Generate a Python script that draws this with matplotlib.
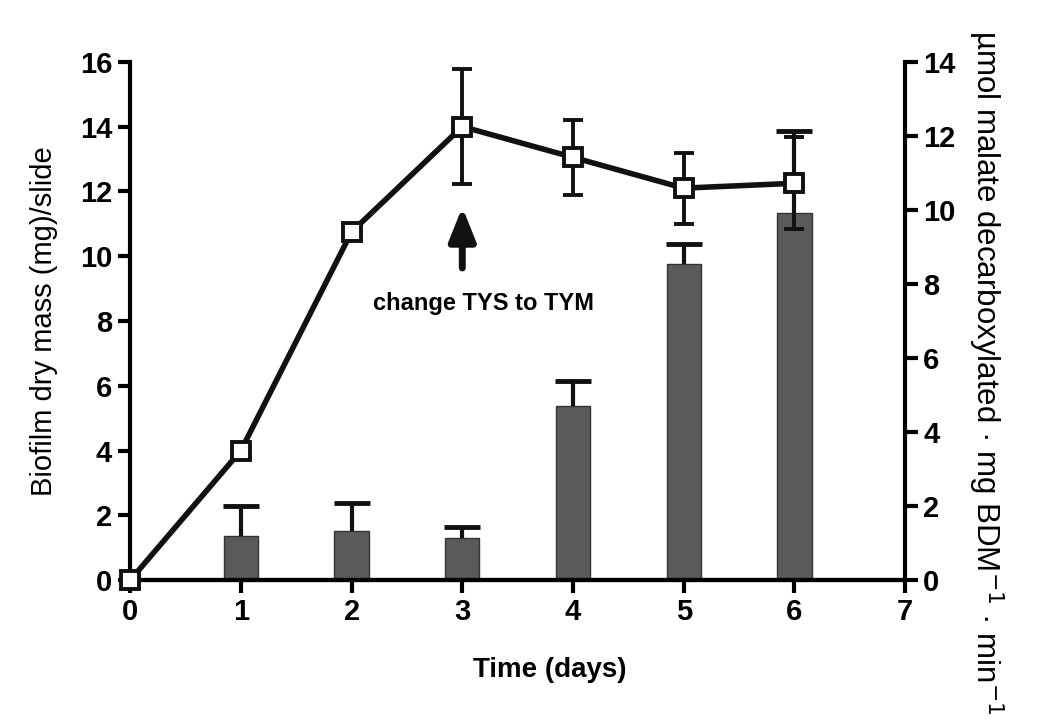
import numpy as np
import matplotlib
matplotlib.use('agg')
import matplotlib.pyplot as plt

# biofilm dry mass (left axis)
days = [0, 1, 2, 3, 4, 5, 6]
mass = [0, 4.0, 10.75, 14.0, 13.05, 12.1, 12.25]
mass_err = [0, 0, 0.2, 1.78, 1.16, 1.1, 1.42]

# malate decarboxylation (right axis)
bar_days = [1, 2, 3, 4, 5, 6]
malate = [1.2, 1.32, 1.14, 4.7, 8.54, 9.92]
malate_err = [0.8, 0.76, 0.3, 0.68, 0.54, 2.2]

fig = plt.figure(figsize=(10.5, 7.27), dpi=100)
ax = fig.add_axes([0.124, 0.202, 0.738, 0.713])
ax2 = ax.twinx()

ax2.bar(bar_days, malate, width=0.31, color='#5a5a5a', edgecolor='#333333', linewidth=1)
eb = ax2.errorbar(bar_days, malate, yerr=[np.zeros(len(malate)), malate_err], fmt='none',
                  ecolor='#111111', elinewidth=3, capsize=13, capthick=3.5)
eb[1][0].set_visible(False)  # only upper caps

ax.set_zorder(ax2.get_zorder() + 1)
ax.patch.set_visible(False)
ax.errorbar(days, mass, yerr=mass_err, fmt='-s', color='#111111', lw=4,
            markersize=13, markerfacecolor='white', markeredgewidth=2.8,
            elinewidth=2.8, capsize=7, capthick=2.8, clip_on=False, zorder=5)

ax.annotate('', xy=(3, 11.6), xytext=(3, 9.55),
            arrowprops=dict(arrowstyle='-|>,head_width=0.4,head_length=1.0',
                            mutation_scale=20, color='#111111', lw=5))
ax.text(3.19, 8.55, 'change TYS to TYM', ha='center', va='center', fontsize=17,
        fontweight='bold', family='Liberation Sans')

ax.set_xlim(0, 7)
ax.set_ylim(0, 16)
ax2.set_ylim(0, 14)
ax.set_xticks(range(0, 8))
ax.set_yticks(range(0, 17, 2))
ax2.set_yticks(range(0, 15, 2))

for a in (ax, ax2):
    a.spines['top'].set_visible(False)
    for s in a.spines.values():
        s.set_linewidth(3)
    a.tick_params(width=3, length=9, direction='out', labelsize=21, pad=4)
ax2.spines['left'].set_visible(False)
ax.spines['right'].set_visible(False)

for t in ax.get_yticklabels() + ax2.get_yticklabels() + ax.get_xticklabels():
    t.set_fontweight('bold')
    t.set_family('Liberation Sans')

ax.set_xlabel('Time (days)', fontsize=20, fontweight='bold', family='Liberation Sans', labelpad=22)
ax.xaxis.label.set_x(0.542)
ax.set_ylabel('Biofilm dry mass (mg)/slide', fontsize=21, family='Liberation Sans', labelpad=16)
ax2.set_ylabel('µmol malate decarboxylated · mg BDM$^{-1}$ · min$^{-1}$', fontsize=22.5,
               family='Liberation Sans', rotation=270, labelpad=36)
ax2.yaxis.label.set_y(0.40)

fig.savefig('out.png', dpi=100)
